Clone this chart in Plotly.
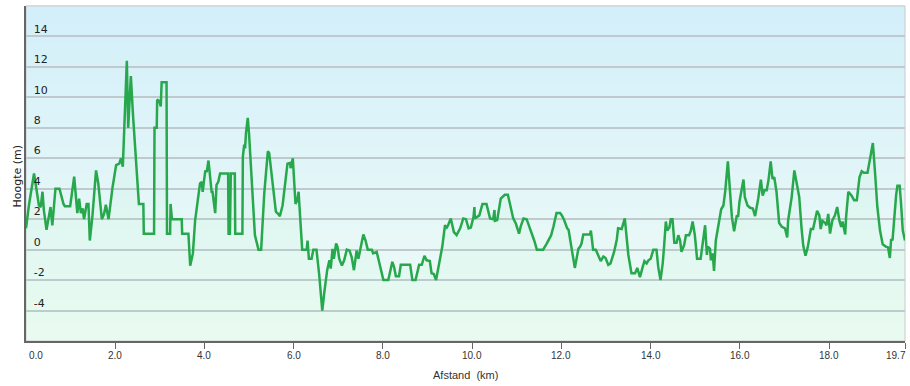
import plotly.graph_objects as go

# ---------------- data ----------------
distance_km = [
    0.00, 0.07, 0.18, 0.24, 0.29, 0.33, 0.37, 0.40, 0.46, 0.55, 0.59, 0.66, 0.75, 0.84, 0.87, 0.99,
    1.08, 1.15, 1.19, 1.23, 1.27, 1.30, 1.36, 1.40, 1.43, 1.49, 1.57, 1.62, 1.70, 1.75, 1.79, 1.85,
    1.94, 2.02, 2.09, 2.13, 2.17, 2.26, 2.29, 2.35, 2.40, 2.53, 2.63, 2.64, 2.87, 2.88, 2.93, 2.94,
    2.99, 3.02, 3.04, 3.15, 3.16, 3.23, 3.24, 3.27, 3.49, 3.50, 3.64, 3.68, 3.74, 3.79, 3.86, 3.90,
    3.94, 3.96, 3.99, 4.02, 4.05, 4.09, 4.16, 4.18, 4.24, 4.27, 4.31, 4.35, 4.53, 4.54, 4.57, 4.59,
    4.68, 4.69, 4.85, 4.86, 4.89, 4.91, 4.93, 4.97, 5.00, 5.06, 5.13, 5.21, 5.27, 5.34, 5.42, 5.45,
    5.53, 5.60, 5.65, 5.69, 5.75, 5.83, 5.86, 5.92, 5.93, 5.98, 6.01, 6.04, 6.08, 6.11, 6.13, 6.19,
    6.29, 6.31, 6.34, 6.40, 6.44, 6.51, 6.57, 6.64, 6.69, 6.75, 6.80, 6.83, 6.87, 6.90, 6.95, 6.98,
    7.02, 7.08, 7.13, 7.19, 7.25, 7.30, 7.35, 7.41, 7.45, 7.50, 7.56, 7.61, 7.66, 7.75, 7.78, 7.86,
    7.93, 8.01, 8.12, 8.21, 8.25, 8.29, 8.36, 8.40, 8.61, 8.66, 8.73, 8.81, 8.87, 8.93, 8.98, 9.05,
    9.09, 9.14, 9.19, 9.26, 9.33, 9.39, 9.43, 9.46, 9.52, 9.59, 9.65, 9.73, 9.80, 9.86, 9.92, 9.97,
    10.03, 10.05, 10.06, 10.16, 10.23, 10.32, 10.40, 10.47, 10.50, 10.51, 10.56, 10.64, 10.73, 10.80,
    10.86, 10.92, 10.98, 11.05, 11.09, 11.15, 11.22, 11.30, 11.39, 11.45, 11.59, 11.67, 11.77, 11.82,
    11.89, 11.97, 12.01, 12.06, 12.10, 12.13, 12.16, 12.23, 12.30, 12.38, 12.42, 12.45, 12.49, 12.64,
    12.66, 12.69, 12.71, 12.77, 12.83, 12.88, 12.94, 12.99, 13.05, 13.10, 13.18, 13.24, 13.27, 13.35,
    13.42, 13.46, 13.50, 13.57, 13.65, 13.70, 13.76, 13.82, 13.86, 13.91, 13.95, 14.00, 14.06, 14.13,
    14.17, 14.22, 14.27, 14.30, 14.34, 14.37, 14.42, 14.45, 14.49, 14.53, 14.58, 14.62, 14.66, 14.69,
    14.75, 14.79, 14.86, 14.90, 14.94, 14.99, 15.04, 15.12, 15.17, 15.19, 15.22, 15.26, 15.28, 15.33,
    15.35, 15.39, 15.42, 15.46, 15.54, 15.58, 15.63, 15.67, 15.73, 15.78, 15.82, 15.87, 15.93, 15.96,
    15.99, 16.08, 16.11, 16.17, 16.23, 16.29, 16.34, 16.41, 16.47, 16.51, 16.55, 16.60, 16.64, 16.69,
    16.73, 16.77, 16.82, 16.88, 16.94, 17.01, 17.06, 17.08, 17.16, 17.22, 17.27, 17.33, 17.38, 17.42,
    17.47, 17.52, 17.59, 17.64, 17.68, 17.73, 17.78, 17.81, 17.85, 17.91, 17.94, 17.98, 18.02, 18.07,
    18.13, 18.18, 18.23, 18.27, 18.30, 18.36, 18.38, 18.43, 18.50, 18.56, 18.62, 18.68, 18.73, 18.78,
    18.86, 18.92, 18.98, 19.03, 19.08, 19.14, 19.20, 19.27, 19.32, 19.36, 19.39, 19.42, 19.45, 19.50,
    19.53, 19.58, 19.61, 19.65, 19.70,
]

elevation_m = [
    1.4, 3.0, 5.0, 3.9, 2.9, 2.8, 3.8, 2.6, 1.3, 2.8, 1.6, 4.0, 4.0, 3.0, 2.85, 2.85,
    4.8, 2.4, 3.35, 2.4, 2.7, 2.0, 3.0, 3.0, 0.6, 2.25, 5.2, 4.35, 2.0, 2.35, 2.95, 2.0,
    4.1, 5.55, 5.65, 6.0, 5.45, 12.4, 8.0, 11.4, 8.75, 3.0, 3.0, 1.05, 1.05, 8.0, 8.0, 9.85,
    9.75, 9.4, 11.0, 11.0, 1.05, 1.05, 3.0, 2.0, 2.0, 1.05, 1.05, -1.05, -0.25, 1.9, 3.7, 4.35,
    4.45, 3.8, 4.55, 5.2, 5.1, 5.85, 3.8, 3.8, 2.4, 4.25, 4.45, 5.0, 5.0, 1.05, 1.05, 5.0,
    5.0, 1.05, 1.05, 6.1, 6.9, 6.65, 7.65, 8.65, 7.55, 4.55, 0.95, 0.0, 0.0, 3.7, 6.45, 6.35,
    4.25, 2.5, 2.35, 2.2, 2.9, 5.0, 5.65, 5.7, 5.35, 6.0, 4.1, 3.0, 3.25, 3.8, 2.8, 0.0,
    0.0, 0.6, -0.6, -0.6, 0.0, 0.0, -1.6, -4.0, -2.7, -1.35, -0.7, -1.25, 0.05, -0.6, 0.4, 0.2,
    -0.6, -1.05, -0.7, 0.0, -0.05, -0.5, -1.35, -0.05, -0.6, 0.2, 1.0, 0.6, 0.0, 0.0, -0.25, -0.15,
    -1.05, -2.0, -2.0, -0.8, -1.15, -1.75, -1.75, -1.0, -1.0, -2.0, -2.0, -1.0, -1.0, -0.4, -0.7, -0.75,
    -1.55, -1.6, -2.0, -0.8, 0.2, 1.6, 1.45, 1.6, 2.05, 1.15, 0.95, 1.4, 2.05, 2.0, 1.4, 1.45,
    2.15, 2.8, 2.05, 2.25, 3.0, 3.0, 2.05, 2.0, 2.6, 1.9, 1.95, 3.35, 3.6, 3.6,
    2.7, 2.05, 1.7, 1.05, 1.55, 2.05, 2.0, 1.4, 0.6, 0.0, 0.0, 0.4, 0.95, 1.5,
    2.4, 2.4, 2.25, 1.95, 1.6, 1.4, 1.3, 0.0, -1.2, 0.05, 0.2, 0.4, 1.0, 1.0,
    1.25, 0.5, 0.0, 0.0, -0.45, -0.75, -0.45, -0.55, -1.0, -0.9, -0.15, 0.65, 1.4, 1.35,
    2.05, 0.85, -0.35, -1.55, -1.55, -1.2, -1.8, -1.15, -0.75, -0.9, -0.7, -0.6, 0.0, 0.0,
    -1.15, -2.0, -0.9, 0.2, 1.85, 1.25, 1.45, 2.0, 2.0, 0.45, 0.45, 0.95, 0.6, -0.15,
    0.3, 0.95, 0.95, 1.25, 1.85, 0.95, -0.6, -0.6, 0.5, 0.65, 1.6, -0.35, 0.2, 0.05,
    -0.7, -0.25, -1.4, 0.6, 1.95, 2.65, 2.9, 3.8, 5.8, 3.7, 2.15, 1.2, 2.25, 2.15,
    3.15, 4.6, 3.45, 2.9, 2.75, 2.7, 2.2, 3.35, 4.6, 3.55, 3.9, 3.9, 4.55, 5.8,
    4.65, 4.75, 3.8, 1.75, 1.5, 1.4, 0.8, 1.9, 3.45, 5.2, 4.35, 3.45, 1.45, 0.25,
    -0.4, 0.15, 1.35, 1.35, 1.9, 2.55, 2.25, 1.35, 1.9, 1.75, 1.6, 2.35, 1.05, 1.9,
    2.25, 2.8, 1.9, 1.5, 1.85, 1.0, 2.15, 3.8, 3.55, 3.25, 3.25, 4.75, 5.15, 5.05,
    5.05, 6.1, 7.0, 5.0, 2.8, 1.25, 0.35, 0.2, 0.15, -0.55, 0.7, 0.6, 1.9, 3.55,
    4.2, 4.2, 3.1, 1.25, 0.6,
]

x_tick_vals = [0, 2, 4, 6, 8, 10, 12, 14, 16, 18, 19.7]
x_tick_text = ["0.0", "2.0", "4.0", "6.0", "8.0", "10.0", "12.0", "14.0", "16.0", "18.0", "19.7"]
y_tick_vals = [-4, -2, 0, 2, 4, 6, 8, 10, 12, 14]
y_tick_text = ["-4", "-2", "0", "2", "4", "6", "8", "10", "12", "14"]

x_range = [0, 19.7]
y_range = [-6, 16]
x_title = "Afstand  (km)"
y_title = "Hoogte (m)"

# ---------------- figure ----------------
fig = go.Figure()

# baseline for the soft fill under the profile
fig.add_trace(go.Scatter(
    x=[x_range[0], x_range[1]], y=[y_range[0], y_range[0]],
    mode="lines", line=dict(width=0), hoverinfo="skip", showlegend=False,
))
fig.add_trace(go.Scatter(
    x=distance_km, y=elevation_m, mode="lines",
    line=dict(color="#27a84c", width=2.5),
    fill="tonexty", fillcolor="rgba(170,240,190,0.09)",
    showlegend=False,
))

# vertical background gradient (light sky blue -> very light mint)
shapes = []
n = 60
top = (211, 239, 250)
bot = (240, 252, 246)
for i in range(n):
    t = i / (n - 1)
    c = tuple(round(bot[k] + (top[k] - bot[k]) * t) for k in range(3))
    shapes.append(dict(
        type="rect", xref="x domain", yref="y domain",
        x0=0, x1=1, y0=i / n, y1=(i + 1) / n + 0.002,
        fillcolor="rgb(%d,%d,%d)" % c, line=dict(width=0), layer="below",
    ))
# light frame on top / right
shapes.append(dict(
    type="rect", xref="x domain", yref="y domain", x0=0, x1=1, y0=0, y1=1,
    line=dict(color="#c9c9c9", width=1), fillcolor="rgba(0,0,0,0)", layer="below",
))

annotations = []
for v, t in zip(x_tick_vals, x_tick_text):
    anchor = "center"
    if v == x_tick_vals[0]:
        anchor = "left"
    elif v == x_tick_vals[-1]:
        anchor = "right"
    annotations.append(dict(
        x=v, y=0, xref="x", yref="paper", yanchor="top", xanchor=anchor,
        text=t, showarrow=False, yshift=-7, xshift=(1 if anchor == "left" else (3 if anchor == "right" else 0)),
        font=dict(family="Liberation Sans", size=10, color="#333333"),
    ))
annotations.append(dict(
    x=0.5, y=0, xref="paper", yref="paper", yanchor="top", xanchor="center",
    text=x_title, showarrow=False, yshift=-26,
    font=dict(family="Liberation Sans", size=11, color="#333333"),
))
annotations.append(dict(
    x=0, y=0.5, xref="paper", yref="paper", xanchor="center", yanchor="middle",
    text=y_title, textangle=-90, showarrow=False, xshift=-9, yshift=-3,
    font=dict(family="DejaVu Sans", size=11, color="#222222"),
))

fig.update_layout(
    width=910, height=386,
    margin=dict(l=26, r=5, t=6, b=45),
    paper_bgcolor="white",
    plot_bgcolor="rgba(0,0,0,0)",
    shapes=shapes,
    annotations=annotations,
    showlegend=False,
)

fig.update_xaxes(
    range=x_range, tickvals=x_tick_vals, ticktext=x_tick_text, showticklabels=False,
    showgrid=False, zeroline=False,
    showline=True, linecolor="#666666", linewidth=2,
    ticks="outside", ticklen=6, tickwidth=1, tickcolor="#666666",
    automargin=False,
)
fig.update_yaxes(
    range=y_range, tickvals=y_tick_vals, ticktext=y_tick_text,
    ticklabelposition="inside top", ticklabelstandoff=6,
    tickfont=dict(family="DejaVu Sans", size=11, color="#222222"),
    showgrid=True, gridcolor="#bfc9ce", gridwidth=1.5,
    zeroline=False,
    showline=True, linecolor="#666666", linewidth=2,
    ticks="", automargin=False,
)

fig.write_html("out.html", config={"displayModeBar": False},
               post_script="document.body.style.margin='0px';")
